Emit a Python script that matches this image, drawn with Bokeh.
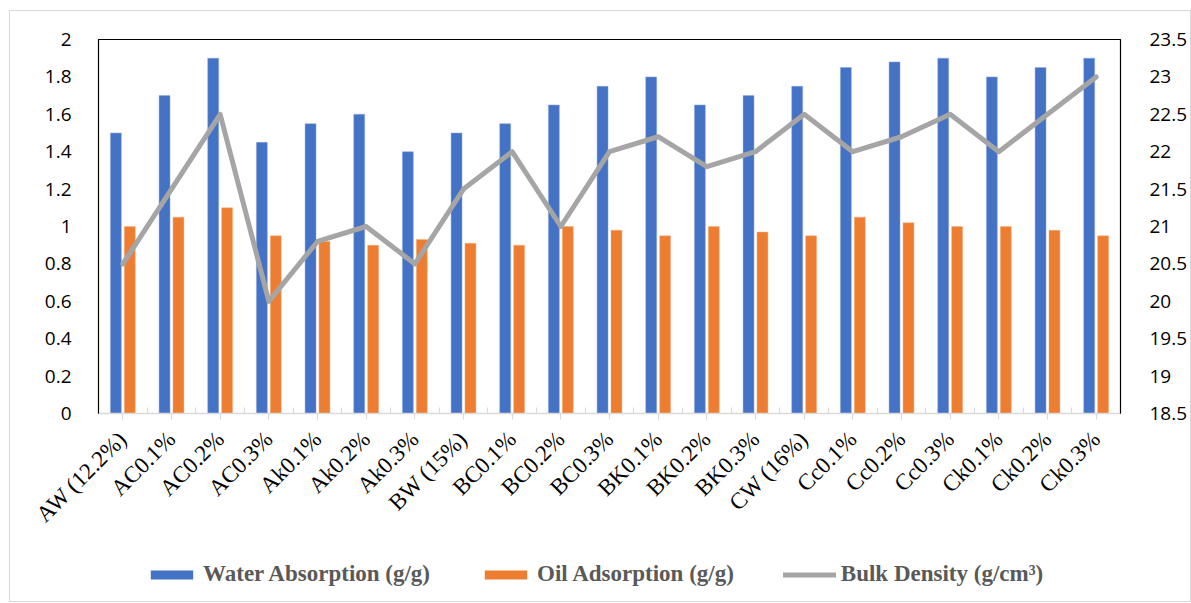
import numpy as np
from bokeh.plotting import figure
from bokeh.layouts import column
from bokeh.models import (ColumnDataSource, Range1d, LinearAxis, FixedTicker,
                          Legend, LegendItem)
from bokeh.embed import file_html
from bokeh.resources import INLINE
from bokeh.transform import dodge

categories = ["AW (12.2%)", "AC0.1%", "AC0.2%", "AC0.3%", "Ak0.1%", "Ak0.2%", "Ak0.3%",
              "BW (15%)", "BC0.1%", "BC0.2%", "BC0.3%", "BK0.1%", "BK0.2%", "BK0.3%",
              "CW (16%)", "Cc0.1%", "Cc0.2%", "Cc0.3%", "Ck0.1%", "Ck0.2%", "Ck0.3%"]
water_absorption = [1.5, 1.7, 1.9, 1.45, 1.55, 1.6, 1.4, 1.5, 1.55, 1.65, 1.75, 1.8, 1.65,
                    1.7, 1.75, 1.85, 1.88, 1.9, 1.8, 1.85, 1.9]
oil_adsorption = [1.0, 1.05, 1.1, 0.95, 0.92, 0.9, 0.93, 0.91, 0.9, 1.0, 0.98, 0.95, 1.0,
                  0.97, 0.95, 1.05, 1.02, 1.0, 1.0, 0.98, 0.95]
bulk_density = [20.5, 21.5, 22.5, 20.0, 20.8, 21.0, 20.5, 21.5, 22.0, 21.0, 22.0, 22.2, 21.8,
                22.0, 22.5, 22.0, 22.2, 22.5, 22.0, 22.5, 23.0]
left_ticks = [0, 0.2, 0.4, 0.6, 0.8, 1, 1.2, 1.4, 1.6, 1.8, 2]
right_ticks = [18.5, 19, 19.5, 20, 20.5, 21, 21.5, 22, 22.5, 23, 23.5]
series_names = ["Water Absorption (g/g)", "Oil Adsorption (g/g)", "Bulk Density (g/cm³)"]

BLUE, ORANGE, GREY = "#4472C4", "#ED7D31", "#A5A5A5"

n = len(categories)
xc = [i + 0.5 for i in range(n)]
src = ColumnDataSource(dict(x=xc, water=water_absorption, oil=oil_adsorption, bulk=bulk_density))

p = figure(width=1180, height=530, output_backend="svg", toolbar_location=None,
           x_range=Range1d(0, n), y_range=Range1d(0, 2),
           min_border_left=88, min_border_top=28, min_border_right=66, min_border_bottom=128)
p.extra_y_ranges = {"bd": Range1d(18.5, 23.5)}

p.vbar(x=dodge("x", -0.143, range=p.x_range), top="water", width=0.225, source=src,
       fill_color=BLUE, line_color="#8FAADC", line_width=0.5)
p.vbar(x=dodge("x", 0.143, range=p.x_range), top="oil", width=0.225, source=src,
       fill_color=ORANGE, line_color="#F4B183", line_width=0.5)
p.line(x="x", y="bulk", source=src, y_range_name="bd", line_color=GREY,
       line_width=5, line_join="round", line_cap="round")

p.xgrid.visible = False
p.ygrid.visible = False
p.outline_line_color = "black"
p.outline_line_width = 1.2

# x axis
xa = p.xaxis[0]
xa.ticker = FixedTicker(ticks=xc, minor_ticks=list(range(n + 1)))
xa.major_label_overrides = {x: c for x, c in zip(xc, categories)}
xa.major_label_orientation = np.pi / 4
xa.major_label_text_font = "Liberation Serif"
xa.major_label_text_font_size = "23px"
xa.major_label_text_color = "black"
xa.axis_line_color = "#D9D9D9"
xa.axis_line_width = 1.5
xa.major_tick_line_color = "#D9D9D9"
xa.major_tick_in = 0
xa.major_tick_out = 6
xa.minor_tick_line_color = "#D9D9D9"
xa.minor_tick_in = 6
xa.minor_tick_out = 0
xa.major_label_standoff = 16

# left axis
ya = p.yaxis[0]
ya.ticker = FixedTicker(ticks=left_ticks)
ya.major_label_overrides = {t: ("%g" % t) for t in left_ticks}
ya.major_label_text_font = "Open Sans"
ya.major_label_text_font_size = "19px"
ya.major_label_text_color = "black"
ya.axis_line_color = "black"
ya.major_tick_line_color = None
ya.minor_tick_line_color = None
ya.major_label_standoff = 21

# right axis
ra = LinearAxis(y_range_name="bd", ticker=FixedTicker(ticks=right_ticks))
ra.major_label_overrides = {t: ("%g" % t) for t in right_ticks}
ra.major_label_text_font = "Open Sans"
ra.major_label_text_font_size = "19px"
ra.major_label_text_color = "black"
ra.axis_line_color = "black"
ra.major_tick_line_color = None
ra.minor_tick_line_color = None
ra.major_label_standoff = 23
p.add_layout(ra, "right")

# legend strip: same series drawn into an empty view window, only the legend shows
lg = figure(width=1180, height=60, output_backend="svg", toolbar_location=None,
            x_range=Range1d(0, n), y_range=Range1d(40, 41),
            x_axis_location=None, y_axis_location=None,
            min_border_left=0, min_border_right=0, min_border_top=0, min_border_bottom=0)
lg.xgrid.visible = False
lg.ygrid.visible = False
lg.outline_line_color = None
s_w = lg.vbar(x="x", top="water", width=0.225, source=src, fill_color=BLUE, line_color=None)
s_o = lg.vbar(x="x", top="oil", width=0.225, source=src, fill_color=ORANGE, line_color=None)
s_b = lg.line(x="x", y="bulk", source=src, line_color=GREY, line_width=5, line_cap="round")

legend = Legend(items=[LegendItem(label=series_names[0], renderers=[s_w]),
                       LegendItem(label=series_names[1], renderers=[s_o]),
                       LegendItem(label=series_names[2], renderers=[s_b])],
                orientation="horizontal", location=(47, 14))
legend.label_text_font = "Liberation Serif"
legend.label_text_font_style = "bold"
legend.label_text_font_size = "23px"
legend.label_text_color = "#595959"
legend.glyph_width = 53
legend.glyph_height = 11
legend.label_standoff = 5
legend.spacing = 49
legend.padding = 0
legend.margin = 0
legend.border_line_color = None
legend.background_fill_alpha = 0
lg.add_layout(legend, "center")

layout = column(p, lg, spacing=0)
layout.margin = (10, 0, 0, 9)
layout.styles = {"border": "1px solid #D9D9D9"}

open("out.html", "w").write(file_html(layout, INLINE))
